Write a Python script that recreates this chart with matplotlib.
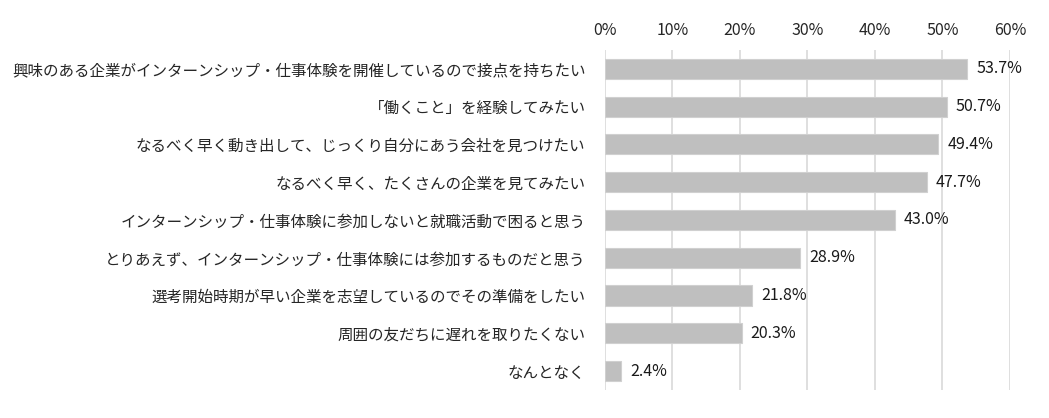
import matplotlib.pyplot as plt
import numpy as np

plt.rcParams['font.family'] = ['Noto Sans CJK JP', 'DejaVu Sans']

labels = [
    '興味のある企業がインターンシップ・仕事体験を開催しているので接点を持ちたい',
    '「働くこと」を経験してみたい',
    'なるべく早く動き出して、じっくり自分にあう会社を見つけたい',
    'なるべく早く、たくさんの企業を見てみたい',
    'インターンシップ・仕事体験に参加しないと就職活動で困ると思う',
    'とりあえず、インターンシップ・仕事体験には参加するものだと思う',
    '選考開始時期が早い企業を志望しているのでその準備をしたい',
    '周囲の友だちに遅れを取りたくない',
    'なんとなく',
]
values = [53.7, 50.7, 49.4, 47.7, 43.0, 28.9, 21.8, 20.3, 2.4]
ticks = [0, 10, 20, 30, 40, 50, 60]

fig = plt.figure(figsize=(10.49, 4.18), dpi=100)
ax = fig.add_axes([0.5767, 0.067, 0.3861, 0.8137])

y = np.arange(len(labels))
ax.barh(y, values, height=0.53, color='#BFBFBF', edgecolor='#D0D0D0', linewidth=0.8, zorder=2)

for yi, v in zip(y, values):
    ax.text(v + 1.3, yi, f'{v:.1f}%', va='center', ha='left', fontsize=11.5, color='#1a1a1a')

ax.set_xlim(0, 60)
ax.set_ylim(len(labels) - 0.5, -0.5)
ax.set_xticks(ticks)
ax.set_xticklabels([f'{t}%' for t in ticks], fontsize=11.5, color='#262626')
ax.xaxis.tick_top()
ax.tick_params(axis='x', length=0, pad=8)
ax.set_yticks(y)
ax.set_yticklabels(labels, fontsize=11.2, color='#262626')
ax.tick_params(axis='y', length=0, pad=14)

ax.grid(axis='x', color='#D9D9D9', linewidth=1.2, zorder=0)
for s in ax.spines.values():
    s.set_visible(False)

fig.savefig('out.png', dpi=100)
